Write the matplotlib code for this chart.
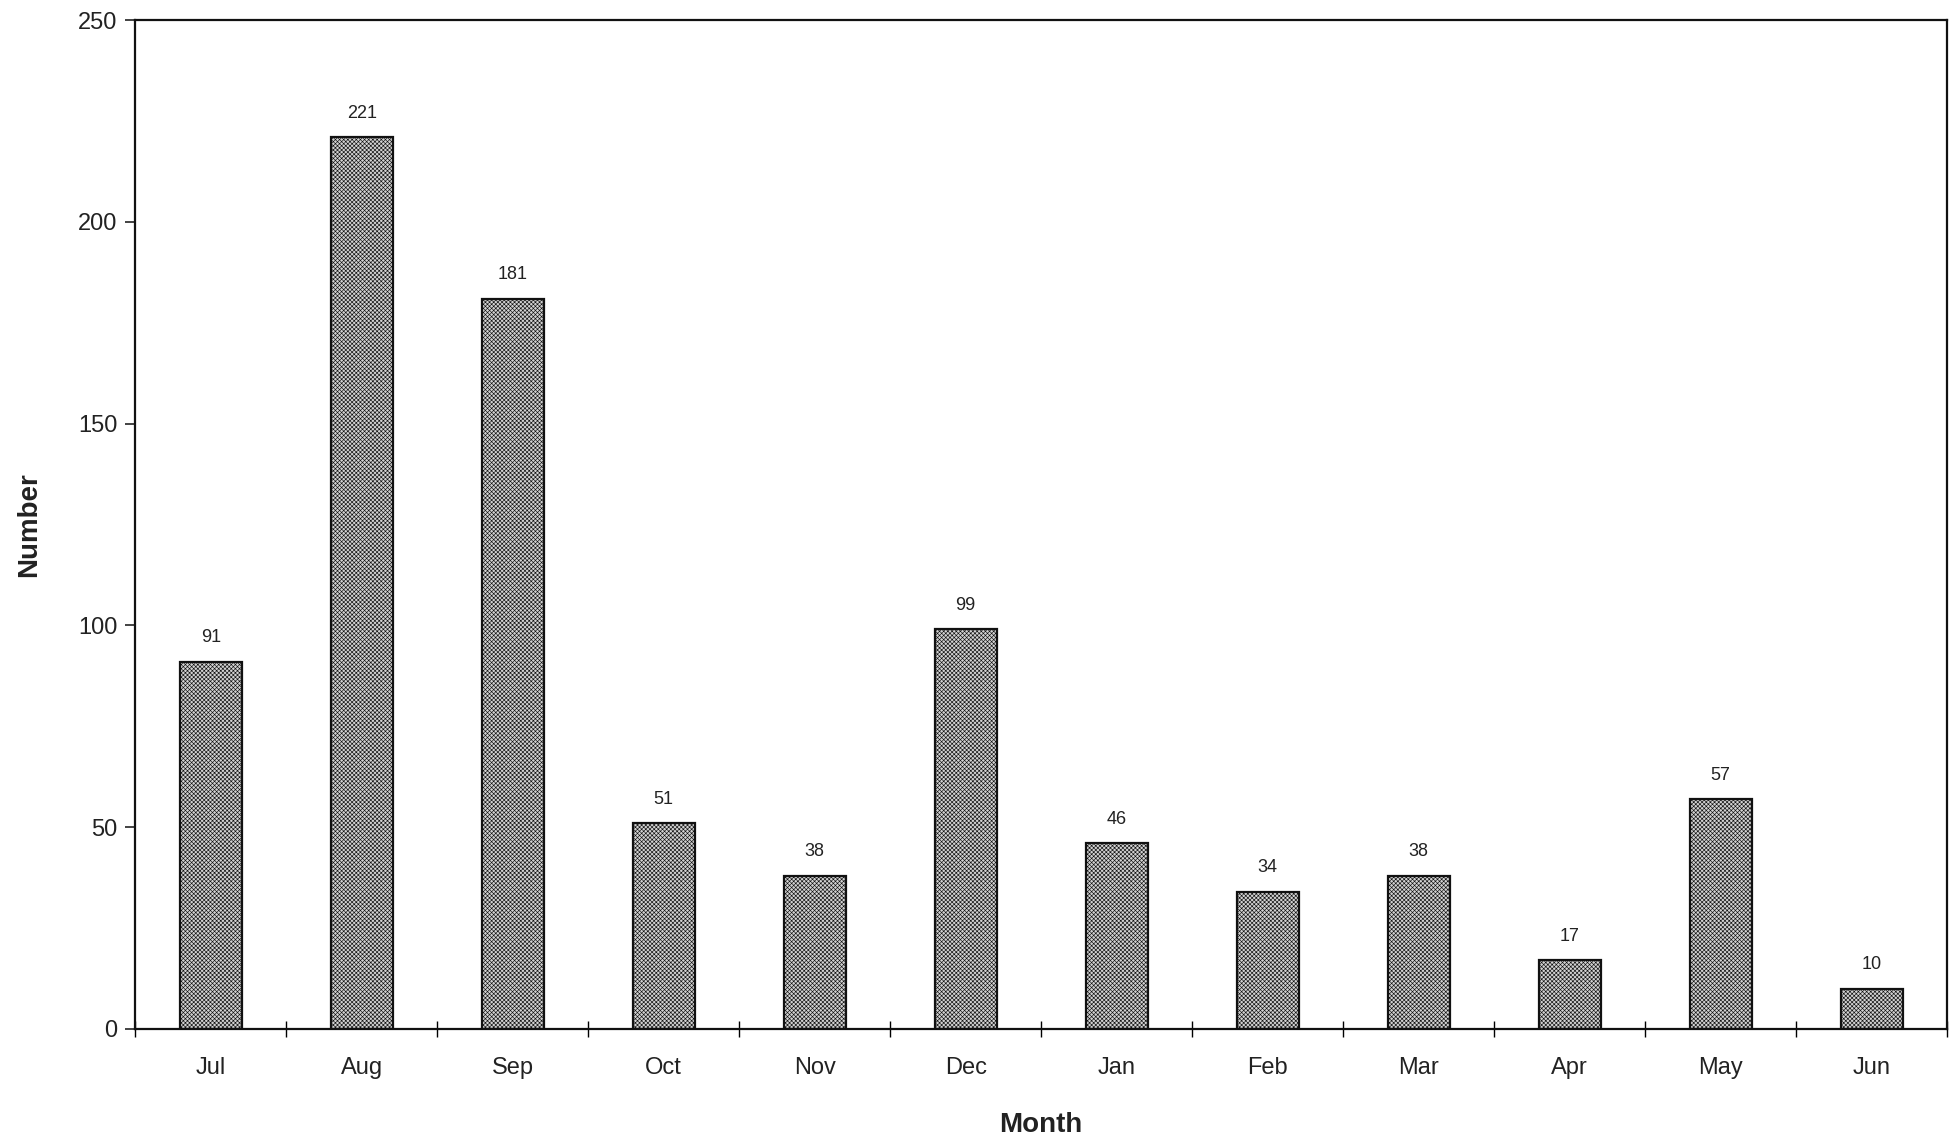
import numpy as np
import matplotlib.pyplot as plt

plt.rcParams['font.family'] = ['Liberation Sans', 'DejaVu Sans']
plt.rcParams['hatch.linewidth'] = 0.45
plt.rcParams['hatch.color'] = '#555555'

months = ['Jul', 'Aug', 'Sep', 'Oct', 'Nov', 'Dec',
          'Jan', 'Feb', 'Mar', 'Apr', 'May', 'Jun']
counts = [91, 221, 181, 51, 38, 99, 46, 34, 38, 17, 57, 10]

fig = plt.figure(figsize=(19.6, 11.39), dpi=100)
ax = fig.add_axes([0.069, 0.0966, 0.9244, 0.8858])

x = np.arange(len(months))
bars = ax.bar(x, counts, width=0.41, color='#d2d2d2', edgecolor='#111111',
              linewidth=1.6, hatch='xxxxxxxx', zorder=2)

# value labels above each bar
for xi, v in zip(x, counts):
    ax.annotate(str(v), (xi, v), xytext=(0, 11), textcoords='offset points',
                ha='center', va='bottom', fontsize=13, color='#222222')

ax.set_xlim(-0.5, len(months) - 0.5)
ax.set_ylim(0, 250)
ax.set_yticks(np.arange(0, 251, 50))
ax.tick_params(axis='y', direction='out', length=7, width=1.2,
               labelsize=17, pad=6, colors='#222222')

# category ticks sit on the boundaries between months
ax.set_xticks(np.arange(-0.5, len(months), 1.0))
ax.set_xticklabels([])
ax.set_xticks(x, minor=True)
ax.set_xticklabels(months, minor=True)
ax.tick_params(axis='x', which='major', direction='inout', length=12, width=1.0)
ax.tick_params(axis='x', which='minor', length=0, labelsize=17, pad=20,
               colors='#222222')

for s in ax.spines.values():
    s.set_linewidth(1.6)
    s.set_color('#111111')

ax.set_xlabel('Month', fontsize=20, fontweight='bold', labelpad=24,
              color='#222222')
ax.set_ylabel('Number', fontsize=20, fontweight='bold', labelpad=26,
              color='#222222')

fig.savefig('out.png', dpi=100)
